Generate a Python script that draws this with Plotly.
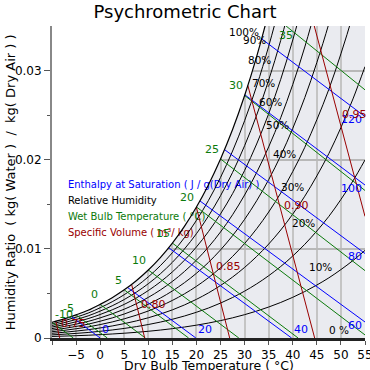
import numpy as np
import plotly.graph_objects as go

P_ATM_KPA = 101.325
T_TABLE = [-10, -7.5, -5, -2.5, 0, 2.5, 5, 7.5, 10, 12.5, 15, 17.5, 20, 22.5,
           25, 27.5, 30, 32.5, 35, 37.5, 40, 42.5, 45, 47.5, 50, 52.5, 55]
PSAT_KPA = [0.2865, 0.3483, 0.4215, 0.5036, 0.6112, 0.7316, 0.8726, 1.0370,
            1.2282, 1.4497, 1.7057, 2.0010, 2.3392, 2.7268, 3.1697, 3.6730,
            4.2467, 4.8940, 5.6286, 6.4530, 7.3844, 8.4230, 9.5944, 10.8780,
            12.3513, 13.9620, 15.7614]
RH_LEVELS = [10, 20, 30, 40, 50, 60, 70, 80, 90]          # %
ENTHALPY_LEVELS = [0, 20, 40, 60, 80, 100, 120]           # J/g dry air
WETBULB_LEVELS = [-10, -5, 0, 5, 10, 15, 20, 25, 30, 35]  # degC
VOLUME_LEVELS = [0.75, 0.80, 0.85, 0.90, 0.95]            # m3/kg
X_TICKS = [-10, -5, 0, 5, 10, 15, 20, 25, 30, 35, 40, 45, 50, 55]
X_TICK_TEXT = ["", "\u22125", "0", "5", "10", "15", "20", "25", "30", "35", "40", "45", "50", "55"]
Y_TICKS = [0, 0.01, 0.02, 0.03]
Y_TICK_TEXT = ["0", "0.01", "0.02", "0.03"]
LEGEND_TEXT = ["Enthalpy at Saturation ( J / g(Dry Air) )", "Relative Humidity",
               "Wet Bulb Temperature ( \u00b0C)", "Specific Volume ( m\u00b3/ kg)"]
TITLE = "Psychrometric Chart"
X_TITLE = "Dry Bulb Temperature ( \u00b0C)"
NB = "\u00a0"
Y_TITLE = ("Humidity Ratio" + NB + NB + "(" + NB + "kg(" + NB + "Water" + NB + ")" + NB + NB + "/" + NB + NB
           + "kg(" + NB + "Dry Air" + NB + ")" + NB + ")")

# ---------------- styling / placement ----------------
X_RANGE = [-10, 55]
Y_RANGE = [0, 0.035]
BLUE = "#0000ff"
GREEN = "#0b7a0b"
RED = "#990000"
BLACK = "#000000"
FONT = "DejaVu Sans"
RH_LABEL_T = {100: 33.5, 90: 34.9, 80: 35.8, 70: 36.7, 60: 38.1, 50: 39.6,
              40: 41.0, 30: 42.7, 20: 45.0, 10: 48.5, 0: 52.0}

T = np.array(T_TABLE, dtype=float)
PS = np.array(PSAT_KPA, dtype=float)


def psat(t):
    return np.exp(np.interp(t, T, np.log(PS)))


def w_of_pw(pw):
    return 0.621945 * pw / (P_ATM_KPA - pw)


WS = w_of_pw(PS)

fig = go.Figure()
annotations = []

# white area above the saturation curve (hides the grid there)
fig.add_trace(go.Scatter(
    x=list(T) + [X_RANGE[1], X_RANGE[0]], y=list(WS) + [1.0, 1.0],
    mode="none", fill="toself", fillcolor="white", line=dict(shape="spline"),
    hoverinfo="skip", showlegend=False))

# legend-like texts (under the lines)
fig.add_trace(go.Scatter(
    x=[-6.7] * 4, y=[0.01712, 0.01532, 0.01352, 0.01172], mode="text",
    text=LEGEND_TEXT, textposition="middle right",
    textfont=dict(family=FONT, size=10, color=[BLUE, BLACK, GREEN, RED]),
    hoverinfo="skip", showlegend=False))

# relative humidity curves
for rh in RH_LEVELS:
    w = w_of_pw(PS * rh / 100.0)
    fig.add_trace(go.Scatter(x=T, y=w, mode="lines", line=dict(color=BLACK, width=1, shape="spline"),
                             hoverinfo="skip", showlegend=False))

# enthalpy lines
hs = 1.006 * T + WS * (2501.0 + 1.86 * T)
for h in ENTHALPY_LEVELS:
    t0 = np.interp(h, hs, T)
    w0 = float(w_of_pw(psat(t0)))
    t_end = h / 1.006
    if t_end <= X_RANGE[1]:
        w_end = 0.0
        annotations.append(dict(x=t_end, y=w_end, text=str(h), xanchor="left", yanchor="bottom",
                                font=dict(color=BLUE, size=11, family=FONT), xshift=0, yshift=0))
    else:
        t_end = X_RANGE[1]
        w_end = (h - 1.006 * t_end) / (2501.0 + 1.86 * t_end)
        annotations.append(dict(x=t_end, y=w_end, text=str(h), xanchor="right", yanchor="middle",
                                font=dict(color=BLUE, size=11, family=FONT), xshift=-1, yshift=-3))
    fig.add_trace(go.Scatter(x=[t0, t_end], y=[w0, w_end], mode="lines", line=dict(color=BLUE, width=1),
                             hoverinfo="skip", showlegend=False))

# wet bulb lines
for twb in WETBULB_LEVELS:
    ws = float(w_of_pw(psat(twb)))
    t_end = twb + (2501.0 - 2.326 * twb) * ws / 1.006
    w_end = 0.0
    if t_end > X_RANGE[1]:
        t_end = X_RANGE[1]
        w_end = ((2501.0 - 2.326 * twb) * ws - 1.006 * (t_end - twb)) / (2501.0 + 1.86 * t_end - 4.186 * twb)
    fig.add_trace(go.Scatter(x=[twb, t_end], y=[ws, w_end], mode="lines", line=dict(color=GREEN, width=1),
                             hoverinfo="skip", showlegend=False))
    lab = "-" + str(-twb) if twb < 0 else str(twb)
    if ws > Y_RANGE[1]:
        wt = Y_RANGE[1]
        tt = twb + ((2501.0 - 2.326 * twb) * ws - wt * (2501.0 - 4.186 * twb)) / (1.006 + 1.86 * wt)
        annotations.append(dict(x=tt, y=wt, text=lab, xanchor="right", yanchor="top",
                                font=dict(color=GREEN, size=11, family=FONT), xshift=-1, yshift=-1))
    elif twb <= X_RANGE[0]:
        annotations.append(dict(x=twb, y=ws, text=lab, xanchor="left", yanchor="bottom",
                                font=dict(color=GREEN, size=11, family=FONT), xshift=1, yshift=-1))
    elif twb < 0:
        annotations.append(dict(x=twb, y=ws, text=lab, xanchor="right", yanchor="bottom",
                                font=dict(color=GREEN, size=11, family=FONT), xshift=0, yshift=-2))
    else:
        annotations.append(dict(x=twb, y=ws, text=lab, xanchor="right", yanchor="bottom",
                                font=dict(color=GREEN, size=11, family=FONT), xshift=0, yshift=1))

# specific volume lines
RA = 0.287042
fv = RA * (T + 273.15) * (1 + 1.607858 * WS) / P_ATM_KPA
for v in VOLUME_LEVELS:
    t0 = np.interp(v, fv, T)
    w0 = float(w_of_pw(psat(t0)))
    t_end = v * P_ATM_KPA / RA - 273.15
    w_end = 0.0
    if t_end > X_RANGE[1]:
        t_end = X_RANGE[1]
        w_end = (v * P_ATM_KPA / (RA * (t_end + 273.15)) - 1) / 1.607858
    fig.add_trace(go.Scatter(x=[t0, t_end], y=[w0, w_end], mode="lines", line=dict(color=RED, width=1),
                             hoverinfo="skip", showlegend=False))
    wv = min(w0, Y_RANGE[1])
    wm = 0.5 * (wv + w_end)
    tm = v * P_ATM_KPA / (RA * (1 + 1.607858 * wm)) - 273.15
    annotations.append(dict(x=tm, y=wm, text="%.2f" % v, xanchor="left", yanchor="bottom",
                            font=dict(color=RED, size=11, family=FONT), xshift=1, yshift=-2))

# saturation curve
fig.add_trace(go.Scatter(x=T, y=WS, mode="lines", line=dict(color=BLACK, width=1.2, shape="spline"),
                         hoverinfo="skip", showlegend=False))

# RH labels
for rh, tl in RH_LABEL_T.items():
    wl = float(w_of_pw(psat(tl) * rh / 100.0))
    annotations.append(dict(x=tl, y=wl, text=("0 %" if rh == 0 else "%d%%" % rh), xanchor="right",
                            yanchor="bottom", font=dict(color=BLACK, size=10.5, family=FONT),
                            xshift=0, yshift=0))

for a in annotations:
    a.update(xref="x", yref="y", showarrow=False)

# axis titles as paper annotations
annotations.append(dict(text=X_TITLE, xref="paper", yref="paper", x=0.5, y=-0.0897,
                        xanchor="center", yanchor="middle", showarrow=False,
                        font=dict(family=FONT, size=12.5, color="black")))
annotations.append(dict(text=Y_TITLE, xref="paper", yref="paper", x=-0.133, y=0.5,
                        xanchor="center", yanchor="middle", showarrow=False, textangle=-90,
                        font=dict(family=FONT, size=13, color="black")))

fig.update_layout(
    width=370, height=370,
    margin=dict(l=52, r=5, t=26, b=32, autoexpand=False),
    paper_bgcolor="white", plot_bgcolor="#eaebf0",
    font=dict(family=FONT, size=12, color="black"),
    title=dict(text=TITLE, x=0.5, xref="container", xanchor="center",
               y=1 - 12 / 370, yref="container", yanchor="middle",
               font=dict(family=FONT, size=18, color="black"), automargin=False),
    annotations=annotations,
    showlegend=False,
)
fig.update_xaxes(range=X_RANGE, tickvals=X_TICKS, ticktext=X_TICK_TEXT, ticks="outside", ticklen=4,
                 tickcolor="#555", showgrid=True, gridcolor="#c4c4c4", gridwidth=1.5, zeroline=False,
                 showline=True, linecolor="#222", linewidth=3, automargin=False,
                 ticklabeloverflow="allow", tickfont=dict(size=12))
fig.update_yaxes(range=Y_RANGE, tickvals=Y_TICKS, ticktext=Y_TICK_TEXT, ticks="outside", ticklen=6,
                 tickcolor="#555", showgrid=True, gridcolor="#b8b8b8", gridwidth=1.5, zeroline=False,
                 showline=True, linecolor="#888", linewidth=2, automargin=False,
                 ticklabeloverflow="allow",
                 minor=dict(tickvals=[0.005, 0.015, 0.025], ticks="outside", ticklen=3, tickcolor="#555",
                            showgrid=False),
                 tickfont=dict(size=12))

fig.write_html("out.html", config={"displayModeBar": False},
               post_script="document.body.style.margin='0px';")
